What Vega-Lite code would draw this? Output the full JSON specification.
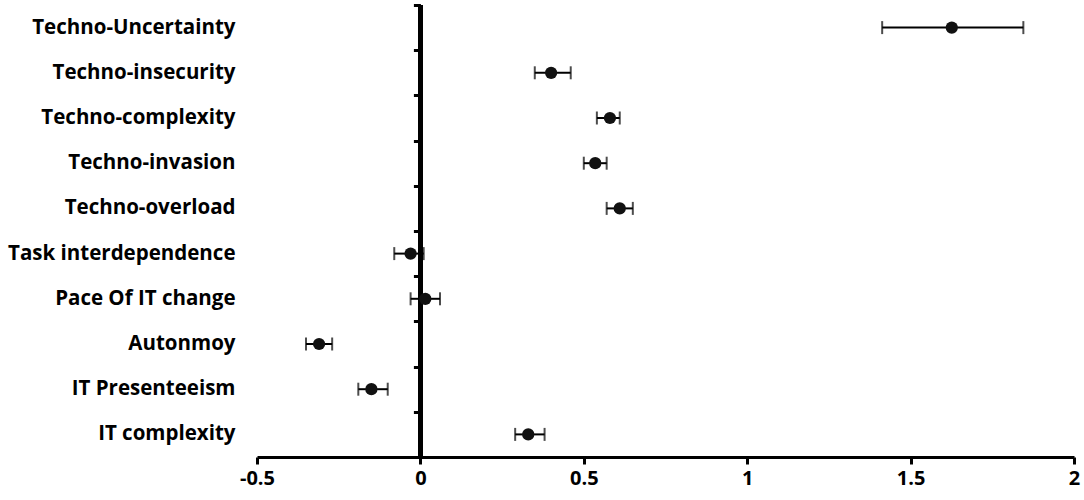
{
  "$schema": "https://vega.github.io/schema/vega-lite/v6.json",
  "width": 817,
  "height": 452,
  "autosize": {"type": "none"},
  "padding": {"left": 257, "top": 5, "right": 10, "bottom": 43},
  "background": "white",
  "config": {
    "view": {"stroke": null},
    "font": "Open Sans",
    "axis": {"labelFont": "Open Sans", "labelFontWeight": "bold", "labelColor": "black", "grid": false}
  },
  "data": {
    "values": [
      {"factor": "Techno-Uncertainty", "est": 1.626, "lo": 1.413, "hi": 1.845},
      {"factor": "Techno-insecurity", "est": 0.40, "lo": 0.35, "hi": 0.46},
      {"factor": "Techno-complexity", "est": 0.58, "lo": 0.54, "hi": 0.61},
      {"factor": "Techno-invasion", "est": 0.535, "lo": 0.50, "hi": 0.57},
      {"factor": "Techno-overload", "est": 0.61, "lo": 0.57, "hi": 0.65},
      {"factor": "Task interdependence", "est": -0.03, "lo": -0.08, "hi": 0.01},
      {"factor": "Pace Of IT change", "est": 0.015, "lo": -0.03, "hi": 0.06},
      {"factor": "Autonmoy\u00a0", "est": -0.31, "lo": -0.35, "hi": -0.27},
      {"factor": "IT Presenteeism", "est": -0.15, "lo": -0.19, "hi": -0.10},
      {"factor": "IT complexity", "est": 0.33, "lo": 0.29, "hi": 0.38}
    ]
  },
  "layer": [
    {
      "mark": {"type": "rule", "color": "black", "strokeWidth": 4.5},
      "encoding": {
        "x": {"datum": 0, "type": "quantitative", "title": null, "scale": {"domain": [-0.5, 2], "nice": false, "zero": false},
          "axis": {"values": [-0.5, 0, 0.5, 1, 1.5, 2], "labelExpr": "'' + datum.value", "labelFlush": false, "labelFontSize": 20, "labelPadding": 4, "tickSize": 7, "tickWidth": 3, "tickColor": "black", "domainColor": "black", "domainWidth": 3, "title": null}}
      }
    },
    {
      "mark": {"type": "rule", "color": "black", "strokeWidth": 2},
      "encoding": {
        "y": {"field": "factor", "type": "nominal", "sort": null, "title": null,
          "scale": {"type": "band", "paddingInner": 0, "paddingOuter": 0},
          "axis": {"orient": "left", "offset": -163.4, "labels": false, "domain": false, "ticks": true, "tickBand": "extent", "tickSize": 7, "tickWidth": 3, "tickColor": "black", "title": null}},
        "x": {"field": "lo", "type": "quantitative", "title": null},
        "x2": {"field": "hi"}
      }
    },
    {
      "mark": {"type": "tick", "color": "black", "thickness": 2, "size": 13},
      "encoding": {
        "y": {"field": "factor", "type": "nominal", "sort": null, "title": null, "axis": null},
        "x": {"field": "lo", "type": "quantitative", "title": null}
      }
    },
    {
      "mark": {"type": "tick", "color": "black", "thickness": 2, "size": 13},
      "encoding": {
        "y": {"field": "factor", "type": "nominal", "sort": null, "title": null, "axis": null},
        "x": {"field": "hi", "type": "quantitative", "title": null}
      }
    },
    {
      "mark": {"type": "circle", "color": "#111111", "opacity": 1, "size": 150},
      "encoding": {
        "y": {"field": "factor", "type": "nominal", "sort": null, "title": null,
          "axis": {"orient": "left", "labelFontSize": 20.5, "labelPadding": 22, "labelLimit": 400, "ticks": false, "domain": false, "title": null}},
        "x": {"field": "est", "type": "quantitative", "title": null}
      }
    }
  ],
  "resolve": {"axis": {"y": "independent"}}
}
